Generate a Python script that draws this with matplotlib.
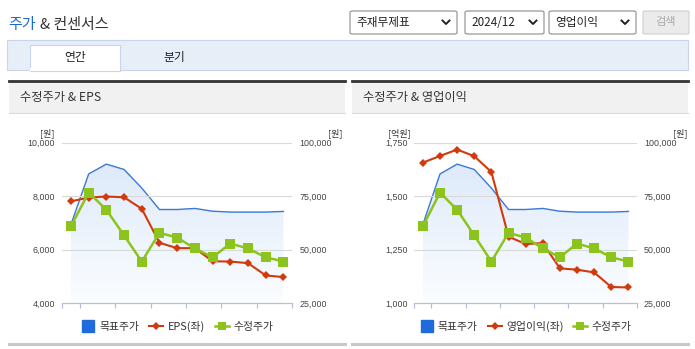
import numpy as np
import matplotlib
matplotlib.use('Agg')
import matplotlib.pyplot as plt
from matplotlib.patches import Rectangle, FancyBboxPatch
from matplotlib.lines import Line2D
from matplotlib.colors import LinearSegmentedColormap

plt.rcParams['font.family'] = ['Noto Sans CJK KR', 'DejaVu Sans']

W, H = 695, 349

# monthly series, 2023/06 - 2024/06
months = ['23/06', '23/07', '23/08', '23/09', '23/10', '23/11', '23/12',
          '24/01', '24/02', '24/03', '24/04', '24/05', '24/06']
target_price = [61800, 85400, 90000, 87500, 78800, 68800, 68800,
                69300, 68000, 67600, 67600, 67600, 67900]
adj_price = [61000, 76700, 68700, 56700, 44500, 57900, 55700,
             50600, 46500, 52900, 50600, 46500, 44500]
eps = [7810, 7950, 7990, 7960, 7530, 6260, 6060,
       6060, 5570, 5560, 5500, 5040, 4980]
op_income = [1657, 1688, 1718, 1687, 1613, 1311, 1277,
             1281, 1163, 1157, 1144, 1076, 1074]

price_ticks = [25000, 50000, 75000, 100000]
eps_ticks = [4000, 6000, 8000, 10000]
op_ticks = [1000, 1250, 1500, 1750]

BLUE = '#3b78d8'
BLUE_SQ = '#1f6bdc'
RED = '#d03a0c'
GREEN = '#8cc31c'
NUM_FONT = ['Liberation Sans', 'DejaVu Sans']


def fx(x):
    return x / W


def fy(y):
    return 1 - y / H


def px_rect(fig, x0, y0, x1, y1, **kw):
    fig.patches.append(Rectangle((fx(x0), fy(y1)), fx(x1) - fx(x0), fy(y0) - fy(y1),
                                 transform=fig.transFigure, **kw))


def px_line(fig, xs, ys, **kw):
    fig.add_artist(Line2D([fx(x) for x in xs], [fy(y) for y in ys],
                          transform=fig.transFigure, **kw))


def dropdown(fig, x0, x1, label):
    fig.patches.append(FancyBboxPatch((fx(x0), fy(34)), fx(x1) - fx(x0), fy(11) - fy(34),
                                      boxstyle='round,pad=0,rounding_size=0.004',
                                      transform=fig.transFigure, facecolor='white',
                                      edgecolor='#8c8c8c', linewidth=0.8))
    fig.text(fx(x0 + 6), fy(22.5), label, fontsize=8.4, color='#222222',
             va='center', ha='left', family=['Noto Sans CJK KR', 'DejaVu Sans'])
    cx = x1 - 11
    px_line(fig, [cx - 3.5, cx, cx + 3.5], [20.5, 24, 20.5], color='#222222', lw=1.4)


def draw_header(fig):
    fig.text(fx(8), fy(25), '주가', fontsize=10.8, color='#1f6bd0', va='center')
    fig.text(fx(40), fy(25), '& 컨센서스', fontsize=10.8, color='#333333', va='center')
    dropdown(fig, 350, 457, '주재무제표')
    dropdown(fig, 465, 544, '2024/12')
    dropdown(fig, 549, 636, '영업이익')
    fig.patches.append(FancyBboxPatch((fx(643), fy(34)), fx(689) - fx(643), fy(11) - fy(34),
                                      boxstyle='round,pad=0,rounding_size=0.003',
                                      transform=fig.transFigure, facecolor='#ebebeb',
                                      edgecolor='#d0d0d0', linewidth=0.8))
    fig.text(fx(666), fy(22.5), '검색', fontsize=8, color='#a8a8a8', ha='center', va='center')

    # tab strip
    px_rect(fig, 7, 40, 688, 69.5, facecolor='#e8eef8', edgecolor='#c9d5e8', linewidth=0.8)
    px_rect(fig, 29.5, 45, 120, 70.5, facecolor='white', edgecolor='#c9d5e8', linewidth=0.8)
    px_rect(fig, 30, 68.5, 119.5, 71, facecolor='white', edgecolor='none')
    fig.text(fx(75), fy(57), '연간', fontsize=8.5, color='#222222', ha='center', va='center')
    fig.text(fx(174), fy(57), '분기', fontsize=8.5, color='#222222', ha='center', va='center')


def draw_panel(fig, x0, x1, box, title, left_vals, left_ticks, left_unit,
               left_name, left_fmt):
    # panel frame
    px_rect(fig, x0, 81.5, x1, 112.5, facecolor='#f1f1f1', edgecolor='none')
    px_line(fig, [x0, x1], [80.8, 80.8], color='#333333', lw=2.0)
    px_line(fig, [x0, x1], [112.5, 112.5], color='#dadada', lw=0.8)
    px_line(fig, [x0, x1], [343.8, 343.8], color='#c8c8c8', lw=2.2)
    fig.text(fx(x0 + 11), fy(98), title, fontsize=8.8, color='#333333', va='center')

    ax_l, ax_t, ax_r, ax_b = box
    ax = fig.add_axes([fx(ax_l), fy(ax_b), fx(ax_r) - fx(ax_l), fy(ax_t) - fy(ax_b)])
    ax2 = ax.twinx()
    ax3 = ax.twinx()
    ax2.set_zorder(1)
    ax.set_zorder(2)
    ax3.set_zorder(3)
    for a in (ax, ax3):
        a.patch.set_visible(False)

    x = np.arange(len(months))

    # price axis (right): target price with gradient fill
    ax2.set_ylim(price_ticks[0], price_ticks[-1])
    ax2.set_xlim(-0.5, len(months) - 0.5)
    poly = ax2.fill_between(x, target_price, price_ticks[0], facecolor='none', edgecolor='none')
    cmap = LinearSegmentedColormap.from_list('fade', ['#fbfdff', '#deeafa'])
    grad = np.linspace(0, 1, 256).reshape(-1, 1)
    img = ax2.imshow(grad, cmap=cmap, aspect='auto', origin='lower',
                     extent=(x[0], x[-1], price_ticks[0], max(target_price)), zorder=1)
    img.set_clip_path(poly.get_paths()[0], transform=ax2.transData)
    ax2.set_ylim(price_ticks[0], price_ticks[-1])
    ax2.plot(x, target_price, color=BLUE, lw=1.0, zorder=3)
    ax2.set_yticks(price_ticks, [f'{v:,}' for v in price_ticks])

    # green adjusted price on top, same scale as ax2
    ax3.set_ylim(price_ticks[0], price_ticks[-1])
    ax3.plot(x, adj_price, color=GREEN, lw=1.8, marker='s', markersize=6.8,
             markeredgewidth=0, zorder=5)
    ax3.set_yticks([])

    # left axis series
    ax.set_ylim(left_ticks[0], left_ticks[-1])
    ax.set_xlim(-0.5, len(months) - 0.5)
    ax.plot(x, left_vals, color=RED, lw=1.5, marker='D', markersize=4.0,
            markeredgewidth=0, zorder=4)
    ax.set_yticks(left_ticks, [left_fmt(v) for v in left_ticks])
    for v in left_ticks[1:]:
        ax.axhline(v, color='#d9d9d9', lw=0.8, zorder=0)

    for a in (ax, ax2, ax3):
        for s in a.spines.values():
            s.set_visible(False)
    ax.spines['bottom'].set_visible(True)
    ax.spines['bottom'].set_color('#b3c2d6')
    ax.spines['bottom'].set_linewidth(0.9)

    ax.set_xticks(x[::2], months[::2])
    ax.set_xticks(np.r_[-0.5, np.arange(0.5, len(months) - 1, 2), len(months) - 0.5], minor=True)
    ax.tick_params(axis='x', which='major', length=0, pad=3.5, labelsize=6.4, labelcolor='#444444')
    ax.tick_params(axis='x', which='minor', length=3.5, width=0.9, color='#b3c2d6')
    ax.tick_params(axis='y', length=0, pad=5, labelsize=6.4, labelcolor='#444444')
    ax2.tick_params(axis='y', length=0, pad=5, labelsize=6.4, labelcolor='#444444')
    ax2.set_xticks([])
    ax3.set_xticks([])
    for lab in ax.get_xticklabels() + ax.get_yticklabels() + ax2.get_yticklabels():
        lab.set_family(NUM_FONT)

    # unit labels
    fig.text(fx(ax_l - 15), fy(133), left_unit, fontsize=6.5, color='#333333',
             ha='center', va='center')
    fig.text(fx(ax_r + 43), fy(133), '[원]', fontsize=6.5, color='#333333',
             ha='center', va='center')

    handles = [
        Line2D([], [], color=BLUE_SQ, marker='s', markersize=8, linestyle='none'),
        Line2D([], [], color=RED, lw=1.5, marker='D', markersize=4, markeredgewidth=0),
        Line2D([], [], color=GREEN, lw=1.8, marker='s', markersize=5.5, markeredgewidth=0),
    ]
    fig.legend(handles, ['목표주가', left_name, '수정주가'], loc='center', ncol=3,
               bbox_to_anchor=(fx((ax_l + ax_r) / 2), fy(326.5)), frameon=False,
               fontsize=7.8, handlelength=1.3, handletextpad=0.4, columnspacing=0.9,
               labelcolor='#333333', borderpad=0)


fig = plt.figure(figsize=(W / 100, H / 100), dpi=100)
fig.patch.set_facecolor('white')

draw_header(fig)
draw_panel(fig, 9.3, 345, (62.1, 142.7, 292.3, 303.3), '수정주가 & EPS',
           eps, eps_ticks, '[원]', 'EPS(좌)', lambda v: f'{v:,}')
draw_panel(fig, 351.7, 688, (414.3, 142.7, 637, 303.3), '수정주가 & 영업이익',
           op_income, op_ticks, '[억원]', '영업이익(좌)', lambda v: f'{v:,}')

fig.savefig('out.png', dpi=100)
